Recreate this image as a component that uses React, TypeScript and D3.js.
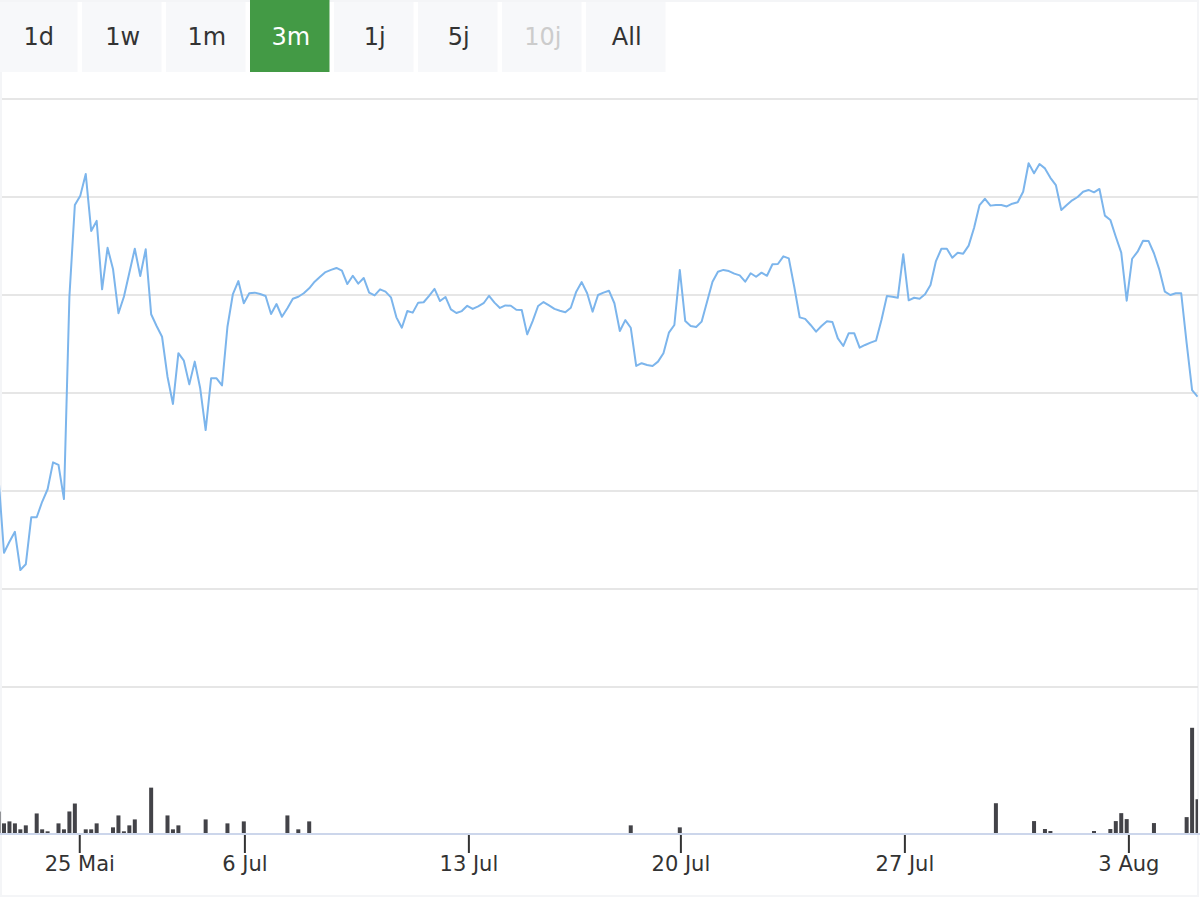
import { useEffect, useRef } from 'react';
import * as d3 from 'd3';

const rangeButtons = ['1d', '1w', '1m', '3m', '1j', '5j', '10j', 'All'];
const selectedRange = '3m';
const disabledRanges = ['10j'];

// closing prices, one per ordinal slot (first one lies just left of the plot and is clipped)
const prices = [
  4.066,
  3.685, 3.741, 3.792, 3.597, 3.626, 3.866, 3.866, 3.945, 4.009, 4.146,
  4.133, 3.959, 4.991, 5.459, 5.507, 5.617, 5.327, 5.378, 5.029, 5.241,
  5.133, 4.907, 4.991, 5.114, 5.236, 5.097, 5.233, 4.902, 4.842, 4.787,
  4.583, 4.444, 4.703, 4.665, 4.544, 4.660, 4.524, 4.311, 4.575, 4.575,
  4.539, 4.838, 5.005, 5.071, 4.958, 5.009, 5.012, 5.005, 4.995, 4.903,
  4.954, 4.889, 4.932, 4.981, 4.991, 5.009, 5.034, 5.068, 5.093, 5.117,
  5.128, 5.138, 5.124, 5.056, 5.098, 5.058, 5.087, 5.012, 4.998, 5.029,
  5.017, 4.988, 4.886, 4.833, 4.918, 4.910, 4.961, 4.963, 4.996, 5.031,
  4.969, 4.990, 4.927, 4.908, 4.918, 4.945, 4.929, 4.942, 4.958, 4.996,
  4.961, 4.934, 4.947, 4.945, 4.925, 4.923, 4.799, 4.867, 4.944, 4.964,
  4.947, 4.929, 4.920, 4.912, 4.935, 5.017, 5.066, 5.009, 4.915, 5.000,
  5.012, 5.022, 4.958, 4.816, 4.872, 4.833, 4.638, 4.652, 4.643, 4.638,
  4.660, 4.703, 4.808, 4.847, 5.128, 4.867, 4.842, 4.837, 4.864, 4.966,
  5.068, 5.119, 5.128, 5.122, 5.109, 5.100, 5.068, 5.111, 5.093, 5.114,
  5.098, 5.157, 5.158, 5.197, 5.187, 5.042, 4.886, 4.878, 4.847, 4.813,
  4.842, 4.866, 4.862, 4.779, 4.740, 4.805, 4.805, 4.731, 4.745, 4.757,
  4.767, 4.872, 4.995, 4.991, 4.986, 5.208, 4.973, 4.986, 4.981, 5.004,
  5.051, 5.173, 5.236, 5.236, 5.190, 5.216, 5.211, 5.252, 5.343, 5.459,
  5.491, 5.456, 5.459, 5.459, 5.452, 5.466, 5.473, 5.527, 5.672, 5.621,
  5.668, 5.646, 5.598, 5.561, 5.434, 5.459, 5.483, 5.500, 5.527, 5.536,
  5.524, 5.541, 5.405, 5.383, 5.297, 5.216, 4.971, 5.185, 5.221, 5.277,
  5.276, 5.213, 5.128, 5.017, 5.000, 5.009, 5.009, 4.754, 4.515, 4.481,
];

// traded volume per slot, same order as prices
const volumes = [
  10800, 4850, 5850, 4850, 1850, 3850, 0, 9850, 1850, 850,
  0, 4850, 1850, 10850, 14850, 0, 1850, 1850, 4850, 0,
  0, 2850, 8850, 850, 3850, 6850, 0, 0, 22850, 0,
  0, 8850, 1850, 3850, 0, 0, 0, 0, 6850, 0,
  0, 0, 4850, 0, 0, 5850, 0, 0, 0, 0,
  0, 0, 0, 8850, 0, 1850, 0, 5850, 0, 0,
  0, 0, 0, 0, 0, 0, 0, 0, 0, 0,
  0, 0, 0, 0, 0, 0, 0, 0, 0, 0,
  0, 0, 0, 0, 0, 0, 0, 0, 0, 0,
  0, 0, 0, 0, 0, 0, 0, 0, 0, 0,
  0, 0, 0, 0, 0, 0, 0, 0, 0, 0,
  0, 0, 0, 0, 0, 0, 3850, 0, 0, 0,
  0, 0, 0, 0, 0, 2850, 0, 0, 0, 0,
  0, 0, 0, 0, 0, 0, 0, 0, 0, 0,
  0, 0, 0, 0, 0, 0, 0, 0, 0, 0,
  0, 0, 0, 0, 0, 0, 0, 0, 0, 0,
  0, 0, 0, 0, 0, 0, 0, 0, 0, 0,
  0, 0, 0, 0, 0, 0, 0, 0, 0, 0,
  0, 0, 0, 15000, 0, 0, 0, 0, 0, 0,
  6000, 0, 2000, 1000, 0, 0, 0, 0, 0, 0,
  0, 1000, 0, 0, 2000, 6000, 10000, 7000, 0, 0,
  0, 0, 5000, 0, 0, 0, 0, 0, 8000, 53000,
  17000,
];

// date ticks sit between slots on the ordinal axis
const tickPositions = [14.9, 45.2, 86.3, 125.2, 166.3, 207.4];
const tickLabels = ['25 Mai', '6 Jul', '13 Jul', '20 Jul', '27 Jul', '3 Aug'];
const priceTicks = [3, 3.5, 4, 4.5, 5, 5.5, 6];

export default function App() {
  const ref = useRef<SVGSVGElement | null>(null);

  useEffect(() => {
    if (!ref.current) return;
    const svg = d3.select(ref.current);
    svg.selectAll('*').remove();

    const width = 1200;
    const height = 900;
    const font = '"DejaVu Sans", Verdana, sans-serif';

    svg.attr('width', width).attr('height', height);

    svg.append('rect').attr('width', width).attr('height', height).attr('fill', '#ffffff');

    // chart frame
    svg.append('rect')
      .attr('x', 1)
      .attr('y', 1)
      .attr('width', 1197)
      .attr('height', 895)
      .attr('fill', 'none')
      .attr('stroke', '#f4f5f7')
      .attr('stroke-width', 2);

    const x = d3.scaleLinear().domain([0, prices.length - 1]).range([-1.45, 1197.55]);
    const y = d3.scaleLinear().domain([3, 6]).range([687, 99]);
    const yVol = d3.scaleLinear().domain([0, 67000]).range([833, 700]);

    svg.append('defs')
      .append('clipPath')
      .attr('id', 'plot-clip')
      .append('rect')
      .attr('x', 0)
      .attr('y', 0)
      .attr('width', 1198)
      .attr('height', height);

    // grid
    svg.append('g')
      .selectAll('line')
      .data(priceTicks)
      .enter()
      .append('line')
      .attr('x1', 2)
      .attr('x2', 1198)
      .attr('y1', d => y(d))
      .attr('y2', d => y(d))
      .attr('stroke', '#e6e6e6')
      .attr('stroke-width', 2);

    const plot = svg.append('g').attr('clip-path', 'url(#plot-clip)');

    // volume columns
    plot.append('g')
      .selectAll('rect')
      .data(volumes.map((v, i) => ({ v, i })).filter(d => d.v > 0))
      .enter()
      .append('rect')
      .attr('x', d => x(d.i) - 2)
      .attr('width', 4)
      .attr('y', d => yVol(d.v))
      .attr('height', d => yVol(0) - yVol(d.v))
      .attr('fill', '#434348');

    // price line
    const line = d3.line<number>()
      .x((_, i) => x(i))
      .y(d => y(d));

    plot.append('path')
      .datum(prices)
      .attr('d', line)
      .attr('fill', 'none')
      .attr('stroke', '#7cb5ec')
      .attr('stroke-width', 2)
      .attr('stroke-linejoin', 'round');

    // x axis
    svg.append('line')
      .attr('x1', 0)
      .attr('x2', width)
      .attr('y1', 834)
      .attr('y2', 834)
      .attr('stroke', '#ccd6eb')
      .attr('stroke-width', 2);

    const ticks = svg.append('g');
    ticks.selectAll('line')
      .data(tickPositions)
      .enter()
      .append('line')
      .attr('x1', d => x(d))
      .attr('x2', d => x(d))
      .attr('y1', 835)
      .attr('y2', 853)
      .attr('stroke', '#333333')
      .attr('stroke-width', 2);

    ticks.selectAll('text')
      .data(tickPositions)
      .enter()
      .append('text')
      .attr('x', d => x(d))
      .attr('y', 871)
      .attr('text-anchor', 'middle')
      .attr('font-family', font)
      .attr('font-size', 21)
      .attr('fill', '#333333')
      .text((_, i) => tickLabels[i]);

    // range selector
    const btnW = 79.5;
    const buttons = svg.append('g')
      .selectAll('g')
      .data(rangeButtons)
      .enter()
      .append('g')
      .attr('transform', (_, i) => `translate(${84 * i - 2},0)`);

    buttons.append('rect')
      .attr('y', d => (d === selectedRange ? 0 : 2))
      .attr('width', btnW)
      .attr('height', d => (d === selectedRange ? 72 : 70))
      .attr('fill', d => (d === selectedRange ? '#439a45' : '#f7f8fa'));

    buttons.append('text')
      .attr('x', btnW / 2 + 1)
      .attr('y', 45)
      .attr('text-anchor', 'middle')
      .attr('font-family', font)
      .attr('font-size', 24)
      .attr('fill', d => (d === selectedRange ? '#ffffff' : disabledRanges.includes(d) ? '#cccccc' : '#333333'))
      .text(d => d);
  }, []);

  return (
    <div style={{ position: 'absolute', left: 0, top: 0 }}>
      <svg ref={ref}></svg>
    </div>
  );
}
